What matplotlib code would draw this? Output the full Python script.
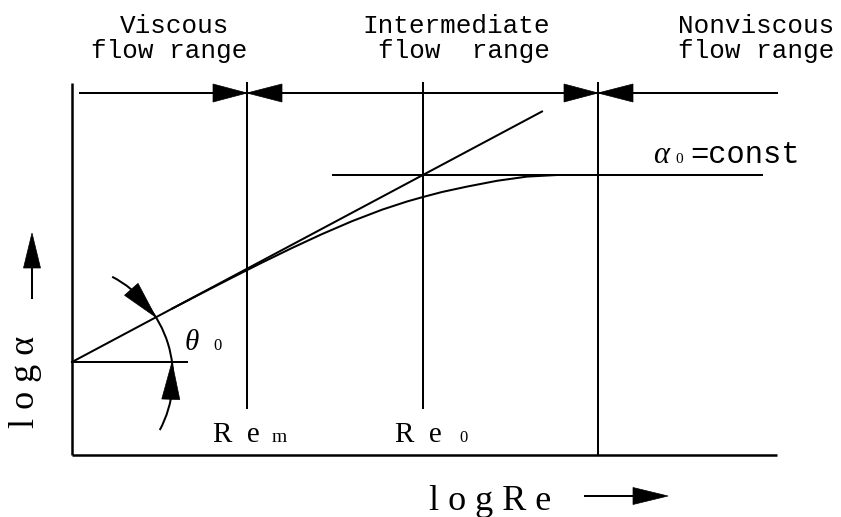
import numpy as np
import matplotlib
matplotlib.use("Agg")
import matplotlib.pyplot as plt
from matplotlib.patches import Polygon, Arc

# ---- schematic values: x = log Re, y = log alpha (arbitrary units) ----
frame_re = [0.0, 7.05]          # extent of the bottom axis
frame_alpha = [0.0, 3.72]       # extent of the left axis
range_line_alpha = 3.62         # level of the flow-range arrows
range_line_re = [0.08, 7.05]
re_m = 1.75                     # log Re_m
re_0 = 3.51                     # log Re_0
re_nonviscous = 5.26            # start of the nonviscous range
marker_bottom = 0.47            # lower end of the Re_m / Re_0 markers

tangent_re = [0.0, 4.70]        # low-Re asymptote  log alpha = a + tan(theta0) log Re
tangent_alpha = [0.93, 3.435]
alpha0 = 2.80                   # alpha_0 = const level
alpha0_re = [2.61, 6.90]

curve_re = [1.0, 1.3, 1.6, 1.9, 2.2, 2.5, 2.8, 3.1, 3.35, 3.51, 3.7, 3.95,
            4.25, 4.55, 4.85]
curve_alpha = [1.463, 1.619, 1.773, 1.924, 2.070, 2.209, 2.338, 2.453,
               2.535, 2.580, 2.630, 2.684, 2.742, 2.784, 2.800]

theta_ref_re = [0.0, 1.15]      # horizontal reference for theta_0
arc_center = (-0.12, 0.78)
arc_radius = 1.13
arc_span = (-28.0, 62.5)        # degrees

mono = "Liberation Mono"
serif = "Liberation Serif"
lw = 1.45
col = "black"

fig = plt.figure(figsize=(8.41, 5.17), dpi=100)
ax = fig.add_axes([0, 0, 1, 1])
ax.set_xlim(-0.72, 7.69)
ax.set_ylim(-0.62, 4.55)
ax.axis("off")


def head(tip, base, half=0.09):
    tip = np.asarray(tip, float)
    base = np.asarray(base, float)
    d = tip - base
    n = np.array([-d[1], d[0]]) / np.hypot(*d)
    pts = [tip, base + half * n, base - half * n]
    ax.add_patch(Polygon(pts, closed=True, fc=col, ec=col, lw=0.5))


# frame
ax.plot(frame_re, [0, 0], color=col, lw=1.8, solid_capstyle="butt")
ax.plot([0, 0], frame_alpha, color=col, lw=1.8, solid_capstyle="butt")

# vertical range markers
for xv, yb in [(re_m, marker_bottom), (re_0, marker_bottom), (re_nonviscous, 0.0)]:
    ax.plot([xv, xv], [yb, frame_alpha[1]], color=col, lw=lw)

# flow range arrows
ax.plot(range_line_re, [range_line_alpha] * 2, color=col, lw=lw)
for xv in (re_m, re_nonviscous):
    head((xv, range_line_alpha), (xv - 0.34, range_line_alpha))
    head((xv, range_line_alpha), (xv + 0.35, range_line_alpha))

# asymptotes and curve
ax.plot(tangent_re, tangent_alpha, color=col, lw=lw)
ax.plot(alpha0_re, [alpha0] * 2, color=col, lw=lw)
ax.plot(curve_re, curve_alpha, color=col, lw=lw, solid_joinstyle="round")

# angle theta_0
ax.plot(theta_ref_re, [tangent_alpha[0]] * 2, color=col, lw=lw)
ax.add_patch(Arc(arc_center, 2 * arc_radius, 2 * arc_radius,
                 theta1=arc_span[0], theta2=arc_span[1], color=col, lw=lw))


def on_arc(deg):
    t = np.radians(deg)
    return (arc_center[0] + arc_radius * np.cos(t),
            arc_center[1] + arc_radius * np.sin(t))


slope = (tangent_alpha[1] - tangent_alpha[0]) / (tangent_re[1] - tangent_re[0])
angles = np.linspace(arc_span[0], arc_span[1], 2000)
pts = np.array([on_arc(a) for a in angles])
hit_line = angles[np.argmin(np.abs(pts[:, 1] - (tangent_alpha[0] + slope * pts[:, 0])))]
hit_ref = angles[np.argmin(np.abs(pts[:, 1] - tangent_alpha[0]))]
head(on_arc(hit_line), on_arc(hit_line + 19))
head(on_arc(hit_ref), on_arc(hit_ref - 19))

# axis direction arrows
ax.plot([5.13, 5.61], [-0.41, -0.41], color=col, lw=lw)
head((5.96, -0.41), (5.61, -0.41), half=0.085)
ax.plot([-0.40, -0.40], [1.57, 1.87], color=col, lw=lw)
head((-0.40, 2.22), (-0.40, 1.87), half=0.085)

# range titles
tkw = dict(family=mono, fontsize=18.7, va="baseline")
ax.text(1.025, 4.22, "Viscous", ha="center", **tkw)
ax.text(0.975, 3.97, "flow range", ha="center", **tkw)
ax.text(3.845, 4.22, "Intermediate", ha="center", **tkw)
ax.text(3.915, 3.97, "flow  range", ha="center", **tkw)
ax.text(6.06, 4.22, "Nonviscous", ha="left", **tkw)
ax.text(6.06, 3.97, "flow range", ha="left", **tkw)

# Reynolds number markers
ax.text(1.41, 0.13, "R  e", family=serif, fontsize=21, va="baseline")
ax.text(2.00, 0.13, "m", family=serif, fontsize=14, va="baseline")
ax.text(3.23, 0.13, "R  e", family=serif, fontsize=21, va="baseline")
ax.text(3.87, 0.13, "0", family=serif, fontsize=12, va="baseline")

# theta_0 and alpha_0
ax.text(1.13, 1.05, "θ", family=serif, style="italic", fontsize=21, va="baseline")
ax.text(1.41, 1.05, "0", family=serif, fontsize=12, va="baseline")
ax.text(5.81, 2.92, "α", family=serif, style="italic", fontsize=22, va="baseline")
ax.text(6.03, 2.92, "0", family=serif, fontsize=11, va="baseline")
ax.text(6.18, 2.92, "=const", family=mono, fontsize=22, va="baseline")

# axis titles
ax.text(4.79, -0.55, "l o g R e", family=serif, fontsize=26, ha="right", va="baseline")
ax.text(-0.47, 0.73, "l o g α", family=serif, fontsize=26, rotation=90,
        ha="center", va="center")

fig.savefig("out.png", dpi=100)
